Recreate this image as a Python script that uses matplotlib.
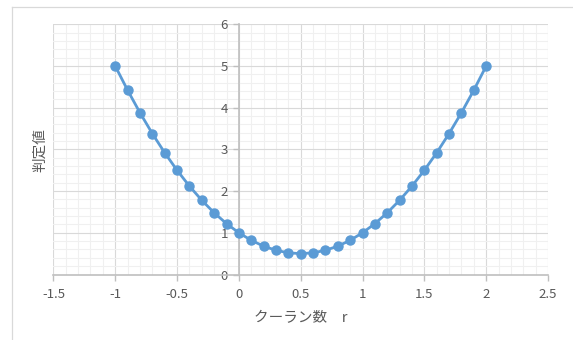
import matplotlib
matplotlib.use("Agg")
import matplotlib.pyplot as plt
from matplotlib.ticker import MultipleLocator
from matplotlib.lines import Line2D

plt.rcParams['font.family'] = ['Noto Sans CJK JP', 'DejaVu Sans']

# Courant number r and the corresponding judgement value
r_values = [-1.0, -0.9, -0.8, -0.7, -0.6, -0.5, -0.4, -0.3, -0.2, -0.1,
            0.0, 0.1, 0.2, 0.3, 0.4, 0.5, 0.6, 0.7, 0.8, 0.9,
            1.0, 1.1, 1.2, 1.3, 1.4, 1.5, 1.6, 1.7, 1.8, 1.9, 2.0]
judge_values = [5.00, 4.42, 3.88, 3.38, 2.92, 2.50, 2.12, 1.78, 1.48, 1.22,
                1.00, 0.82, 0.68, 0.58, 0.52, 0.50, 0.52, 0.58, 0.68, 0.82,
                1.00, 1.22, 1.48, 1.78, 2.12, 2.50, 2.92, 3.38, 3.88, 4.42, 5.00]

x_ticks = [-1.5, -1, -0.5, 0, 0.5, 1, 1.5, 2, 2.5]
y_ticks = [0, 1, 2, 3, 4, 5, 6]
x_label = "クーラン数　r"
y_label = "判定値"

W, H = 573, 340
fig = plt.figure(figsize=(W / 100, H / 100), dpi=100)
fig.patch.set_facecolor("white")

# chart frame
fig.add_artist(Line2D([11.5 / W, 11.5 / W], [0, 1 - 7.3 / H], transform=fig.transFigure,
                      color="#d9d9d9", lw=0.9))
fig.add_artist(Line2D([11.5 / W, 1], [1 - 7.3 / H, 1 - 7.3 / H], transform=fig.transFigure,
                      color="#d9d9d9", lw=0.9))

left, right = 53.4 / W, 548 / W
bottom, top = 1 - 274.5 / H, 1 - 24.3 / H
ax = fig.add_axes([left, bottom, right - left, top - bottom])

ax.plot(r_values, judge_values, color="#5b9bd5", lw=2.0, marker="o",
        markersize=6.5, markerfacecolor="#5b9bd5", markeredgecolor="#5b9bd5",
        zorder=5, clip_on=False)

ax.set_xlim(-1.5, 2.5)
ax.set_ylim(0, 6)
ax.set_xticks(x_ticks)
ax.set_yticks(y_ticks)
ax.set_xticklabels([f"{t:g}" for t in x_ticks])
ax.set_yticklabels([f"{t:g}" for t in y_ticks])
ax.xaxis.set_minor_locator(MultipleLocator(0.1))
ax.yaxis.set_minor_locator(MultipleLocator(0.2))

ax.grid(which="major", color="#d9d9d9", lw=0.8, zorder=1)
ax.grid(which="minor", color="#f0f0f0", lw=0.8, zorder=0)
ax.set_axisbelow(True)

for s in ("top", "right"):
    ax.spines[s].set_visible(False)
ax.spines["left"].set_position(("data", 0))
ax.spines["left"].set_color("#bfbfbf")
ax.spines["left"].set_linewidth(1.2)
ax.spines["bottom"].set_color("#bfbfbf")
ax.spines["bottom"].set_linewidth(1.2)

ax.tick_params(which="major", direction="out", length=4, width=1, color="#bfbfbf",
               labelcolor="#595959", labelsize=9.5)
ax.tick_params(axis="x", which="major", pad=6)
ax.tick_params(axis="y", which="major", pad=4)
ax.tick_params(which="minor", length=0)

fig.text((left + right) / 2, 1 - 318 / H, x_label, ha="center", va="center",
         fontsize=10.5, color="#595959")
fig.text(40 / W, 1 - 150 / H, y_label, ha="center", va="center", rotation=90,
         fontsize=10.5, color="#595959")

fig.savefig("out.png", dpi=100, facecolor="white")
